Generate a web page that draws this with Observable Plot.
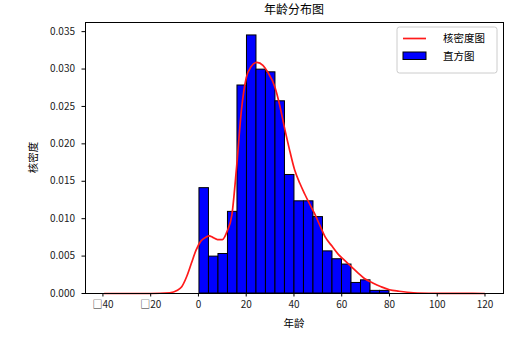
<!DOCTYPE html>
<html>
<head>
<meta charset="utf-8">
<script src="https://cdn.jsdelivr.net/npm/d3@7"></script>
<script src="https://cdn.jsdelivr.net/npm/@observablehq/plot@0.6"></script>
<style>
  html, body { margin: 0; padding: 0; background: #fff; }
  svg text { font-family: "Noto Sans CJK SC", "DejaVu Sans", sans-serif; }
</style>
</head>
<body>
<div id="chart"></div>
<script>
// ---- data ----
const binEdges = [0.42, 4.40, 8.38, 12.36, 16.34, 20.32, 24.30, 28.27, 32.25, 36.23, 40.21,
                  44.19, 48.17, 52.15, 56.13, 60.11, 64.09, 68.07, 72.05, 76.02, 80.00];
const binDensity = [0.01408, 0.00493, 0.00528, 0.01091, 0.02780, 0.03449, 0.02992, 0.02956,
                    0.02569, 0.01584, 0.01232, 0.01232, 0.01021, 0.00563, 0.00458, 0.00387,
                    0.00141, 0.00176, 0.00035, 0.00035];
const kdeAge = [-39.4, -20, -12, -9, -7, -5, -3, -1, 1, 3, 4.5, 6, 8, 10, 12, 14, 16, 18, 20, 22,
                24.5, 27, 29, 32, 34, 36, 38, 40.3, 42.5, 44.5, 46.5, 48.6, 51, 53, 56, 58.4, 61,
                64, 67, 69.5, 73, 76.5, 80, 84, 90, 100, 110, 119.8];
const kdeDensity = [0, 0, 0.0001, 0.0004, 0.0009, 0.0022, 0.0040, 0.0058, 0.0070, 0.0075, 0.0077,
                    0.0075, 0.0072, 0.0072, 0.0083, 0.0105, 0.0170, 0.0245, 0.0288, 0.0303,
                    0.0309, 0.0305, 0.0296, 0.0276, 0.0252, 0.0222, 0.0194, 0.0165, 0.0147,
                    0.0133, 0.0120, 0.0107, 0.0090, 0.0076, 0.0063, 0.0053, 0.0045, 0.0036,
                    0.0027, 0.0020, 0.0014, 0.0009, 0.0005, 0.0003, 0.0001, 0.00003, 0.00001, 0];
const xTicks = [-40, -20, 0, 20, 40, 60, 80, 100, 120];
const xTickLabels = ["□40", "□20", "0", "20", "40", "60", "80", "100", "120"];
const yTicks = [0, 0.005, 0.010, 0.015, 0.020, 0.025, 0.030, 0.035];
const title = "年龄分布图";
const xLabel = "年龄";
const yLabel = "核密度";
const legendLabels = ["核密度图", "直方图"];

const bars = binDensity.map((d, i) => ({x1: binEdges[i], x2: binEdges[i + 1], y: d}));
const kde = kdeAge.map((a, i) => ({x: a, y: kdeDensity[i]}));

const W = 522, H = 342, mL = 85, mR = 19, mT = 22, mB = 49;

const chart = Plot.plot({
  width: W, height: H,
  marginLeft: mL, marginRight: mR, marginTop: mT, marginBottom: mB,
  style: {fontFamily: "'Noto Sans CJK SC', sans-serif", fontSize: "10px", color: "#000", background: "#fff"},
  x: {domain: [-47.3, 127.75], label: null},
  y: {domain: [0, 0.03622], label: null},
  marks: [
    Plot.rectY(bars, {x1: "x1", x2: "x2", y: "y", fill: "#0000ff", stroke: "#000", strokeWidth: 1, inset: 0}),
    Plot.line(kde, {x: "x", y: "y", stroke: "#ff1a1a", strokeWidth: 1.7, curve: "monotone-x"}),
    Plot.frame({stroke: "#000", strokeWidth: 1}),
    Plot.axisX({ticks: xTicks, tickFormat: (d) => xTickLabels[xTicks.indexOf(d)], tickSize: 3.5, tickPadding: 4, label: null, fill: "#222"}),
    Plot.axisY({ticks: yTicks, tickFormat: d3.format(".3f"), tickSize: 3.5, tickPadding: 7, label: null, fill: "#222"})
  ]
});

const svg = d3.select(chart);
const cx = mL + (W - mL - mR) / 2;
svg.append("text").attr("x", cx).attr("y", 14).attr("text-anchor", "middle")
   .attr("font-size", 12).attr("fill", "#000").text(title);
svg.append("text").attr("x", cx).attr("y", 327).attr("text-anchor", "middle")
   .attr("font-size", 10.5).attr("fill", "#000").text(xLabel);
svg.append("text").attr("transform", `translate(37,${mT + (H - mT - mB) / 2}) rotate(-90)`)
   .attr("text-anchor", "middle").attr("font-size", 10.5).attr("fill", "#000").text(yLabel);

// legend
const lg = svg.append("g");
lg.append("rect").attr("x", 397).attr("y", 27).attr("width", 100).attr("height", 46)
  .attr("rx", 2.5).attr("fill", "#fff").attr("fill-opacity", 0.8).attr("stroke", "#ccc").attr("stroke-width", 1);
lg.append("line").attr("x1", 403).attr("x2", 426).attr("y1", 38.5).attr("y2", 38.5)
  .attr("stroke", "#ff1a1a").attr("stroke-width", 1.7);
lg.append("text").attr("x", 443).attr("y", 42).attr("text-anchor", "start").attr("font-size", 10.5).attr("fill", "#000").text(legendLabels[0]);
lg.append("rect").attr("x", 403).attr("y", 52).attr("width", 23).attr("height", 7.5)
  .attr("fill", "#0000ff").attr("stroke", "#000").attr("stroke-width", 1);
lg.append("text").attr("x", 443).attr("y", 60).attr("text-anchor", "start").attr("font-size", 10.5).attr("fill", "#000").text(legendLabels[1]);

document.getElementById("chart").appendChild(chart);
</script>
</body>
</html>
